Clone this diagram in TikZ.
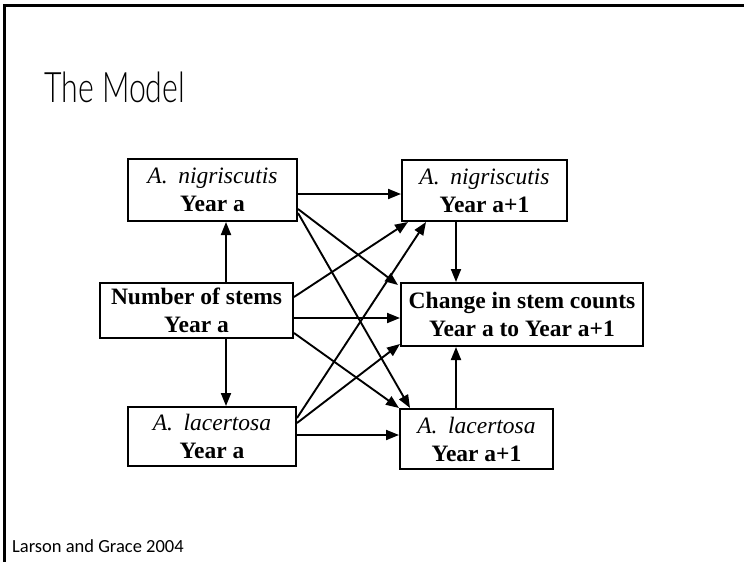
\documentclass[tikz,border=0pt]{standalone}
\usepackage{fontspec}
\usepackage{graphicx}
\setmainfont{Liberation Serif}
\newfontfamily\slidefont{Carlito}
\newfontfamily\titlefont{Lato Light}
\usetikzlibrary{arrows.meta}
\begin{document}
\begin{tikzpicture}[x=1pt,y=-1pt,
  box/.style={draw,line width=2pt,align=center,inner sep=0pt,
    font=\fontsize{23.5}{28}\selectfont\bfseries},
  link/.style={line width=1.9pt,-{Triangle[length=13pt,width=10pt]}},
]
\useasboundingbox (0,0) rectangle (744,562);

% slide frame
\draw[line width=2.5pt] (4.5,562) -- (4.5,5.5) -- (744,5.5);

% title and citation
\node[anchor=base west,inner sep=0pt] (title) at (44,102)
  {\scalebox{0.72}[1]{\titlefont\fontsize{42}{46}\selectfont The Model}};
\node[anchor=base west,inner sep=0pt] (cite) at (12,552)
  {\slidefont\fontsize{18.5}{22}\selectfont Larson and Grace 2004};

% boxes
\node[box,minimum width=169pt,minimum height=62pt] (n1) at (212.5,190)
  {{\itshape\mdseries A.\hspace{0.45em}nigriscutis}\\Year a};
\node[box,minimum width=193pt,minimum height=55pt] (stems) at (196.5,310.5)
  {Number of stems\\Year a};
\node[box,minimum width=168pt,minimum height=59pt] (l1) at (212,436.5)
  {{\itshape\mdseries A.\hspace{0.45em}lacertosa}\\Year a};
\node[box,minimum width=165pt,minimum height=61pt] (n2) at (484.5,190.5)
  {{\itshape\mdseries A.\hspace{0.45em}nigriscutis}\\Year a+1};
\node[box,minimum width=242pt,minimum height=63pt] (change) at (522,314.5)
  {Change in stem counts\\Year a to Year a+1};
\node[box,minimum width=153pt,minimum height=60pt] (l2) at (476.5,439)
  {{\itshape\mdseries A.\hspace{0.45em}lacertosa}\\Year a+1};

% vertical links
\coordinate (vx) at (226,0);
\coordinate (vr) at (456,0);
\draw[link] (stems.north -| vx) -- (n1.south -| vx);
\draw[link] (stems.south -| vx) -- (l1.north -| vx);
\draw[link] (n2.south -| vr) -- (change.north -| vr);
\draw[link] (l2.north -| vr) -- (change.south -| vr);

% horizontal links
\draw[link] ([yshift=-4pt]n1.east) -- ([yshift=-4pt]n1.east -| n2.west);
\draw[link] ([yshift=-7.5pt]stems.east) -- ([yshift=-7.5pt]stems.east -| change.west);
\draw[link] ([yshift=1.5pt]l1.east) -- ([yshift=1.5pt]l1.east -| l2.west);

% diagonal links
\draw[link] ([yshift=-19pt]n1.east) -- ([xshift=-2pt,yshift=-3pt]change.north west);
\draw[link] ([yshift=-23pt]n1.east) -- ([xshift=11pt]l2.north west);
\draw[link] ([yshift=13.5pt]stems.east) -- ([xshift=7pt]n2.south west);
\draw[link] ([yshift=-22.5pt]stems.east) -- (l2.north west);
\draw[link] ([yshift=18.5pt]l1.east) -- ([xshift=25pt]n2.south west);
\draw[link] ([yshift=13.5pt]l1.east) -- ([yshift=3pt]change.south west);
\end{tikzpicture}
\end{document}
